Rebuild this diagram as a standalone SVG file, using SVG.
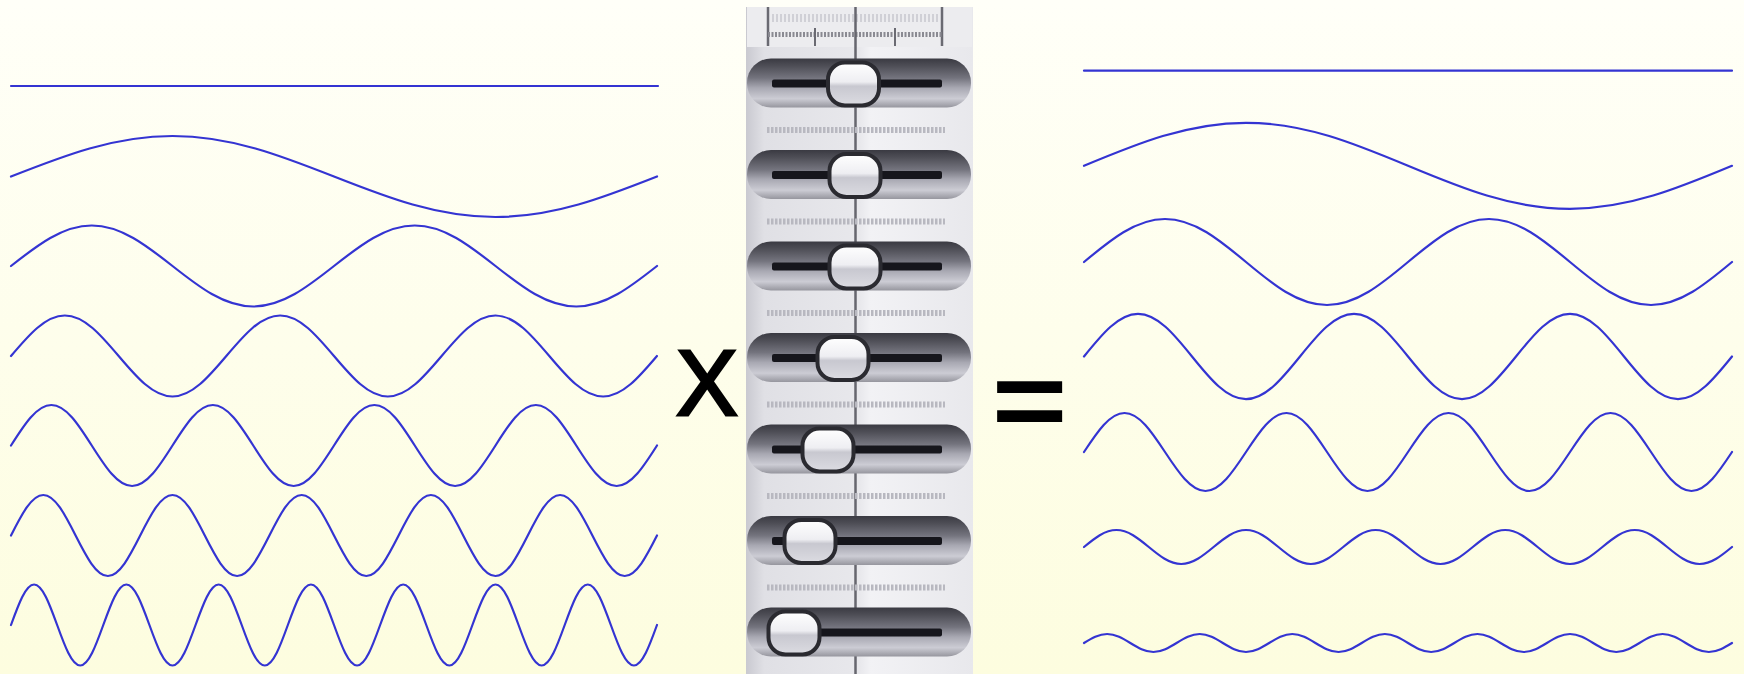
<svg xmlns="http://www.w3.org/2000/svg" xmlns:xlink="http://www.w3.org/1999/xlink" width="1744" height="674" viewBox="0 0 1744 674">
<style>
.w{fill:none;stroke:#3434d2;stroke-width:2.2;stroke-linejoin:round;stroke-linecap:round}
.op{font-family:"Liberation Sans",Arial,sans-serif;fill:#000}
.cap{fill:url(#capG)}
.bar{fill:#16161c}
.knob{fill:url(#knobG);stroke:#2a2a30;stroke-width:4}
.scl{stroke:#b8b8c0;stroke-width:6;stroke-dasharray:2.5 1.5}
</style>
<defs>
<linearGradient id="bg" x1="0" y1="0" x2="0" y2="1">
<stop offset="0" stop-color="#fffff8"/>
<stop offset="1" stop-color="#fdfddf"/>
</linearGradient>
<linearGradient id="panelG" x1="0" y1="0" x2="1" y2="0">
<stop offset="0" stop-color="#c9c9d0"/>
<stop offset="0.08" stop-color="#e0e0e5"/>
<stop offset="0.5" stop-color="#e8e8ec"/>
<stop offset="0.55" stop-color="#f2f2f5"/>
<stop offset="1" stop-color="#e8e8ec"/>
</linearGradient>
<linearGradient id="capG" x1="0" y1="0" x2="0" y2="1">
<stop offset="0" stop-color="#3a3a42"/>
<stop offset="0.15" stop-color="#4e4e56"/>
<stop offset="0.4" stop-color="#74747e"/>
<stop offset="0.6" stop-color="#a8a8b2"/>
<stop offset="0.82" stop-color="#ccccd4"/>
<stop offset="1" stop-color="#96969e"/>
</linearGradient>
<linearGradient id="knobG" x1="0" y1="0" x2="0" y2="1">
<stop offset="0" stop-color="#ffffff"/>
<stop offset="0.45" stop-color="#eeeef2"/>
<stop offset="0.55" stop-color="#c8c8d0"/>
<stop offset="1" stop-color="#dcdce2"/>
</linearGradient>
</defs>
<rect x="0" y="0" width="1744" height="674" fill="url(#bg)"/>

<g id="left-waves">
<path class="w" d="M11 86H658"/>
<path class="w" d="M11 176.5c52.67,-20.75 103.05,-40.5 161.5,-40.5s108.83,19.75 161.5,40.5s103.05,40.5 161.5,40.5s108.83,-19.75 161.5,-40.5"/>
<path class="w" d="M11 266c26.33,-20.75 51.53,-40.5 80.75,-40.5s54.42,19.75 80.75,40.5s51.53,40.5 80.75,40.5s54.42,-19.75 80.75,-40.5s51.53,-40.5 80.75,-40.5s54.42,19.75 80.75,40.5s51.53,40.5 80.75,40.5s54.42,-19.75 80.75,-40.5"/>
<path class="w" d="M11 356c17.56,-20.75 34.35,-40.5 53.83,-40.5s36.28,19.75 53.83,40.5s34.35,40.5 53.83,40.5s36.28,-19.75 53.83,-40.5s34.35,-40.5 53.83,-40.5s36.28,19.75 53.83,40.5s34.35,40.5 53.83,40.5s36.28,-19.75 53.83,-40.5s34.35,-40.5 53.83,-40.5s36.28,19.75 53.83,40.5s34.35,40.5 53.83,40.5s36.28,-19.75 53.83,-40.5"/>
<path class="w" d="M11 445.5c13.17,-20.75 25.76,-40.5 40.375,-40.5s27.21,19.75 40.375,40.5s25.76,40.5 40.375,40.5s27.21,-19.75 40.375,-40.5s25.76,-40.5 40.375,-40.5s27.21,19.75 40.375,40.5s25.76,40.5 40.375,40.5s27.21,-19.75 40.375,-40.5s25.76,-40.5 40.375,-40.5s27.21,19.75 40.375,40.5s25.76,40.5 40.375,40.5s27.21,-19.75 40.375,-40.5s25.76,-40.5 40.375,-40.5s27.21,19.75 40.375,40.5s25.76,40.5 40.375,40.5s27.21,-19.75 40.375,-40.5"/>
<path class="w" d="M11 535.5c10.53,-20.75 20.61,-40.5 32.3,-40.5s21.77,19.75 32.3,40.5s20.61,40.5 32.3,40.5s21.77,-19.75 32.3,-40.5s20.61,-40.5 32.3,-40.5s21.77,19.75 32.3,40.5s20.61,40.5 32.3,40.5s21.77,-19.75 32.3,-40.5s20.61,-40.5 32.3,-40.5s21.77,19.75 32.3,40.5s20.61,40.5 32.3,40.5s21.77,-19.75 32.3,-40.5s20.61,-40.5 32.3,-40.5s21.77,19.75 32.3,40.5s20.61,40.5 32.3,40.5s21.77,-19.75 32.3,-40.5s20.61,-40.5 32.3,-40.5s21.77,19.75 32.3,40.5s20.61,40.5 32.3,40.5s21.77,-19.75 32.3,-40.5"/>
<path class="w" d="M11 625c7.52,-20.75 14.72,-40.5 23.071,-40.5s15.55,19.75 23.071,40.5s14.72,40.5 23.071,40.5s15.55,-19.75 23.071,-40.5s14.72,-40.5 23.071,-40.5s15.55,19.75 23.071,40.5s14.72,40.5 23.071,40.5s15.55,-19.75 23.071,-40.5s14.72,-40.5 23.071,-40.5s15.55,19.75 23.071,40.5s14.72,40.5 23.071,40.5s15.55,-19.75 23.071,-40.5s14.72,-40.5 23.071,-40.5s15.55,19.75 23.071,40.5s14.72,40.5 23.071,40.5s15.55,-19.75 23.071,-40.5s14.72,-40.5 23.071,-40.5s15.55,19.75 23.071,40.5s14.72,40.5 23.071,40.5s15.55,-19.75 23.071,-40.5s14.72,-40.5 23.071,-40.5s15.55,19.75 23.071,40.5s14.72,40.5 23.071,40.5s15.55,-19.75 23.071,-40.5s14.72,-40.5 23.071,-40.5s15.55,19.75 23.071,40.5s14.72,40.5 23.071,40.5s15.55,-19.75 23.071,-40.5"/>
</g>

<g id="equalizer">
<rect x="746" y="7" width="227" height="667" fill="url(#panelG)"/>
<rect x="747" y="7" width="225" height="40" fill="#ececef"/>
<g id="ruler" stroke="#6a6a72">
<line x1="768" y1="7" x2="768" y2="46" stroke-width="2.5"/>
<line x1="942" y1="7" x2="942" y2="46" stroke-width="2.5"/>
<line x1="768" y1="34.5" x2="942" y2="34.5" stroke="#8a8a92" stroke-width="5" stroke-dasharray="2 1.5"/>
<line x1="815" y1="28" x2="815" y2="46" stroke-width="2"/>
<line x1="895" y1="28" x2="895" y2="46" stroke-width="2"/>
<line x1="772" y1="18" x2="940" y2="18" stroke="#d0d0d6" stroke-width="8" stroke-dasharray="2 2"/>
</g>
<line x1="855.5" y1="7" x2="855.5" y2="674" stroke="#66666e" stroke-width="2.5"/>
<g id="scales">
<line class="scl" x1="767" y1="130" x2="945" y2="130"/>
<line class="scl" x1="767" y1="221.5" x2="945" y2="221.5"/>
<line class="scl" x1="767" y1="313" x2="945" y2="313"/>
<line class="scl" x1="767" y1="404.5" x2="945" y2="404.5"/>
<line class="scl" x1="767" y1="496" x2="945" y2="496"/>
<line class="scl" x1="767" y1="587.5" x2="945" y2="587.5"/>
</g>
<g id="slider1"><rect class="cap" x="747" y="58.5" width="224" height="49" rx="24"/><rect class="bar" x="772" y="79.5" width="170" height="8" rx="2"/><rect class="knob" x="828" y="62.5" width="51" height="43" rx="17"/></g>
<g id="slider2"><rect class="cap" x="747" y="150" width="224" height="49" rx="24"/><rect class="bar" x="772" y="171" width="170" height="8" rx="2"/><rect class="knob" x="829.5" y="154" width="51" height="43" rx="17"/></g>
<g id="slider3"><rect class="cap" x="747" y="241.5" width="224" height="49" rx="24"/><rect class="bar" x="772" y="262.5" width="170" height="8" rx="2"/><rect class="knob" x="829.5" y="245.5" width="51" height="43" rx="17"/></g>
<g id="slider4"><rect class="cap" x="747" y="333" width="224" height="49" rx="24"/><rect class="bar" x="772" y="354" width="170" height="8" rx="2"/><rect class="knob" x="817.5" y="337" width="51" height="43" rx="17"/></g>
<g id="slider5"><rect class="cap" x="747" y="424.5" width="224" height="49" rx="24"/><rect class="bar" x="772" y="445.5" width="170" height="8" rx="2"/><rect class="knob" x="802.5" y="428.5" width="51" height="43" rx="17"/></g>
<g id="slider6"><rect class="cap" x="747" y="516" width="224" height="49" rx="24"/><rect class="bar" x="772" y="537" width="170" height="8" rx="2"/><rect class="knob" x="784.5" y="520" width="51" height="43" rx="17"/></g>
<g id="slider7"><rect class="cap" x="747" y="607.5" width="224" height="49" rx="24"/><rect class="bar" x="772" y="628.5" width="170" height="8" rx="2"/><rect class="knob" x="768.5" y="611.5" width="51" height="43" rx="17"/></g>
</g>

<g id="operators">
<text class="op" x="707" y="415" font-size="92" stroke="#000" stroke-width="3" text-anchor="middle">X</text>
<text class="op" transform="translate(1029.5,0) scale(1.2,1)" x="0" y="437" font-size="108" font-weight="bold" text-anchor="middle">=</text>
</g>

<g id="right-waves">
<path class="w" d="M1084 70.7H1732"/>
<path class="w" d="M1084 165.8c52.83,-22.03 103.37,-43 162,-43s109.17,20.97 162,43s103.37,43 162,43s109.17,-20.97 162,-43"/>
<path class="w" d="M1084 262c26.41,-22.03 51.69,-43 81,-43s54.59,20.97 81,43s51.69,43 81,43s54.59,-20.97 81,-43s51.69,-43 81,-43s54.59,20.97 81,43s51.69,43 81,43s54.59,-20.97 81,-43"/>
<path class="w" d="M1084 356.5c17.61,-21.82 34.46,-42.6 54,-42.6s36.39,20.78 54,42.6s34.46,42.6 54,42.6s36.39,-20.78 54,-42.6s34.46,-42.6 54,-42.6s36.39,20.78 54,42.6s34.46,42.6 54,42.6s36.39,-20.78 54,-42.6s34.46,-42.6 54,-42.6s36.39,20.78 54,42.6s34.46,42.6 54,42.6s36.39,-20.78 54,-42.6"/>
<path class="w" d="M1084 452c13.21,-19.98 25.84,-39 40.5,-39s27.29,19.02 40.5,39s25.84,39 40.5,39s27.29,-19.02 40.5,-39s25.84,-39 40.5,-39s27.29,19.02 40.5,39s25.84,39 40.5,39s27.29,-19.02 40.5,-39s25.84,-39 40.5,-39s27.29,19.02 40.5,39s25.84,39 40.5,39s27.29,-19.02 40.5,-39s25.84,-39 40.5,-39s27.29,19.02 40.5,39s25.84,39 40.5,39s27.29,-19.02 40.5,-39"/>
<path class="w" d="M1084 547c10.57,-8.71 20.67,-17 32.4,-17s21.83,8.29 32.4,17s20.67,17 32.4,17s21.83,-8.29 32.4,-17s20.67,-17 32.4,-17s21.83,8.29 32.4,17s20.67,17 32.4,17s21.83,-8.29 32.4,-17s20.67,-17 32.4,-17s21.83,8.29 32.4,17s20.67,17 32.4,17s21.83,-8.29 32.4,-17s20.67,-17 32.4,-17s21.83,8.29 32.4,17s20.67,17 32.4,17s21.83,-8.29 32.4,-17s20.67,-17 32.4,-17s21.83,8.29 32.4,17s20.67,17 32.4,17s21.83,-8.29 32.4,-17"/>
<path class="w" d="M1084 643c7.55,-4.61 14.77,-9 23.143,-9s15.6,4.39 23.143,9s14.77,9 23.143,9s15.6,-4.39 23.143,-9s14.77,-9 23.143,-9s15.6,4.39 23.143,9s14.77,9 23.143,9s15.6,-4.39 23.143,-9s14.77,-9 23.143,-9s15.6,4.39 23.143,9s14.77,9 23.143,9s15.6,-4.39 23.143,-9s14.77,-9 23.143,-9s15.6,4.39 23.143,9s14.77,9 23.143,9s15.6,-4.39 23.143,-9s14.77,-9 23.143,-9s15.6,4.39 23.143,9s14.77,9 23.143,9s15.6,-4.39 23.143,-9s14.77,-9 23.143,-9s15.6,4.39 23.143,9s14.77,9 23.143,9s15.6,-4.39 23.143,-9s14.77,-9 23.143,-9s15.6,4.39 23.143,9s14.77,9 23.143,9s15.6,-4.39 23.143,-9"/>
</g>
</svg>
